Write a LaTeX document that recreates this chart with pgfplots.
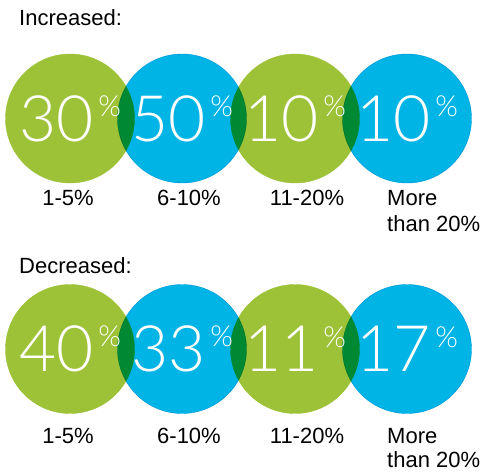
\documentclass[border=0pt]{standalone}
\usepackage{fontspec}
\setmainfont{Liberation Sans}
\newfontfamily\digitfont{Lato Light}
\usepackage{pgfplots}
\pgfplotsset{compat=1.18}
\definecolor{cgreen}{RGB}{157,194,56}
\definecolor{cblue}{RGB}{0,180,230}
\newcommand\val[1]{%
  \setbox0\hbox{\digitfont\fontsize{64bp}{64bp}\selectfont #1}%
  \setbox2\hbox{\digitfont\fontsize{29bp}{29bp}\selectfont\%}%
  \copy0\hspace{5bp}\raisebox{\dimexpr\ht0-\ht2\relax}{\copy2}}
\newcommand\lab{\fontsize{22bp}{26bp}\selectfont}
\begin{document}
\begin{tikzpicture}
\begin{axis}[width=486bp, height=472bp, scale only axis,
  xmin=0, xmax=486, ymin=0, ymax=472, y dir=reverse,
  hide axis, clip=false]
% green circles
\addplot[only marks, mark=*, mark size=64.5bp, color=cgreen,
  mark options={fill=cgreen, draw=none}]
  coordinates {(70,118.5) (295,118.5) (70,349) (295,349)};
% blue circles (multiply gives the dark green overlaps)
\addplot[only marks, mark=*, mark size=64.5bp, color=cblue,
  mark options={fill=cblue, draw=none, blend mode=multiply}]
  coordinates {(182,118.5) (407,118.5) (182,349) (407,349)};
% values
\addplot[only marks, mark=none, point meta=explicit symbolic,
  nodes near coords={\val{\pgfplotspointmeta}},
  nodes near coords style={anchor=center, inner sep=0pt, text=white, blend mode=normal}]
  coordinates {(70,118.5)[30] (182,118.5)[50] (295,118.5)[10] (407,118.5)[10]
               (70,349)[40] (182,349)[33] (295,349)[11] (407,349)[17]};
% titles
\node[anchor=base west, inner sep=0pt] at (axis cs:19,26) {\lab Increased:};
\node[anchor=base west, inner sep=0pt] at (axis cs:19,273) {\lab Decreased:};
% category labels
\node[anchor=base, inner sep=0pt] at (axis cs:68,205) {\lab 1-5\%};
\node[anchor=base, inner sep=0pt] at (axis cs:189,205) {\lab 6-10\%};
\node[anchor=base, inner sep=0pt] at (axis cs:307,205) {\lab 11-20\%};
\node[anchor=base west, inner sep=0pt] at (axis cs:387,205) {\lab More};
\node[anchor=base west, inner sep=0pt] at (axis cs:387,231) {\lab than 20\%};
\node[anchor=base, inner sep=0pt] at (axis cs:68,443) {\lab 1-5\%};
\node[anchor=base, inner sep=0pt] at (axis cs:189,443) {\lab 6-10\%};
\node[anchor=base, inner sep=0pt] at (axis cs:307,443) {\lab 11-20\%};
\node[anchor=base west, inner sep=0pt] at (axis cs:387,443) {\lab More};
\node[anchor=base west, inner sep=0pt] at (axis cs:387,467) {\lab than 20\%};
\end{axis}
\pgfresetboundingbox
\path[use as bounding box] (current axis.south west) rectangle (current axis.north east);
\end{tikzpicture}
\end{document}
